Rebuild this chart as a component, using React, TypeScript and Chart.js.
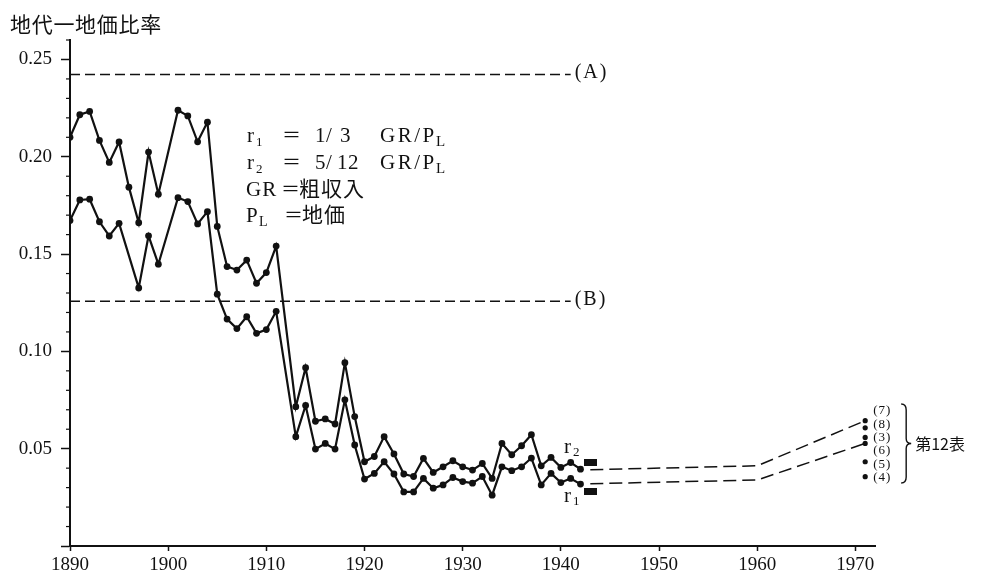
import React, { useEffect, useRef } from "react";
import { Chart, registerables } from "chart.js";
Chart.register(...registerables);

// ---------- data ----------
const years = [
  1890, 1891, 1892, 1893, 1894, 1895, 1896, 1897, 1898, 1899,
  1901, 1902, 1903, 1904, 1905, 1906, 1907, 1908, 1909, 1910, 1911,
  1913, 1914, 1915, 1916, 1917, 1918, 1919, 1920, 1921, 1922, 1923, 1924, 1925,
  1926, 1927, 1928, 1929, 1930, 1931, 1932, 1933, 1934, 1935, 1936, 1937, 1938,
  1939, 1940, 1941, 1942,
];
// r2 = 5/12 GR/PL (upper)
const r2 = [
  0.210, 0.2216, 0.2233, 0.2084, 0.1971, 0.2076, 0.1844, 0.1661, 0.2024, 0.1808,
  0.2239, 0.2210, 0.2077, 0.2178, 0.1642, 0.1436, 0.1418, 0.1469, 0.1350, 0.1405, 0.1541,
  0.0716, 0.0916, 0.0641, 0.0653, 0.0627, 0.0942, 0.0665, 0.0433, 0.0460, 0.0562, 0.0473, 0.0370, 0.0357,
  0.0450, 0.0378, 0.0407, 0.0438, 0.0407, 0.0390, 0.0424, 0.0347, 0.0527, 0.0469, 0.0515, 0.0572, 0.0412,
  0.0455, 0.0404, 0.0429, 0.0395,
];
// r1 = 1/3 GR/PL (lower)
const r1 = [
  0.1672, 0.1778, 0.1782, 0.1666, 0.1593, 0.1658, null, 0.1326, 0.1594, 0.1448,
  0.1790, 0.1770, 0.1655, 0.1718, 0.1294, 0.1166, 0.1117, 0.1178, 0.1093, 0.1112, 0.1206,
  0.0562, 0.0722, 0.0498, 0.0527, 0.0498, 0.0751, 0.0519, 0.0344, 0.0373, 0.0433, 0.0370, 0.0278, 0.0278,
  0.0347, 0.0297, 0.0314, 0.0352, 0.0331, 0.0323, 0.0357, 0.0261, 0.0407, 0.0387, 0.0407, 0.0452, 0.0314,
  0.0373, 0.0326, 0.0347, 0.0318,
];
// dashed extensions
const extYears = [1943, 1960, 1971];
const r2Ext = [0.0392, 0.0412, 0.0644];
const r1Ext = [0.0320, 0.0339, 0.0527];
// small black markers after 1942
const markerYear = 1943;
const markerValues = [0.0428, 0.0278];
// 第12表 points
const table12Year = 1971;
const table12Values = [0.0644, 0.0607, 0.0558, 0.0527, 0.0433, 0.0356];
const table12Labels = ["(7)", "(8)", "(3)", "(6)", "(5)", "(4)"];
// reference lines
const refYears = [1890, 1941];
const refA = 0.2423;
const refB = 0.1258;
// axes
const xMin = 1890;
const xMax = 1972;
const xStep = 10;
const yMin = 0;
const yMax = 0.26;
const yStep = 0.05;
const yMinorStep = 0.01;

const INK = "#111";
const SERIF = '"Liberation Serif", "Noto Sans CJK JP", serif';
const CJK = '"Noto Sans CJK JP", sans-serif';

function txt(ctx: CanvasRenderingContext2D, s: string, x: number, y: number, font: string, ls = 0) {
  ctx.font = font;
  (ctx as any).letterSpacing = ls + "px";
  ctx.fillText(s, x, y);
  (ctx as any).letterSpacing = "0px";
}

const annotPlugin = {
  id: "annot",
  afterDraw(chart: any) {
    const ctx: CanvasRenderingContext2D = chart.ctx;
    const xs = chart.scales.x;
    const ys = chart.scales.y;
    const area = chart.chartArea;
    ctx.save();
    ctx.fillStyle = INK;
    ctx.strokeStyle = INK;

    // minor ticks on y
    ctx.lineWidth = 1.2;
    const n = Math.round((yMax - yMin) / yMinorStep);
    for (let k = 1; k <= n; k++) {
      if (k % 5 === 0) continue;
      const py = ys.getPixelForValue(yMin + k * yMinorStep);
      ctx.beginPath();
      ctx.moveTo(area.left - 4, py);
      ctx.lineTo(area.left, py);
      ctx.stroke();
    }

    // title
    ctx.textAlign = "left";
    ctx.textBaseline = "middle";
    txt(ctx, "地代一地価比率", 10, 24, `21px ${CJK}`, 0.7);

    // (A), (B)
    const lx = xs.getPixelForValue(refYears[1]) + 4;
    txt(ctx, "(A)", lx, ys.getPixelForValue(refA) - 2, `20px ${SERIF}`, 2);
    txt(ctx, "(B)", lx, ys.getPixelForValue(refB) - 1, `20px ${SERIF}`, 2);

    // legend block
    ctx.textBaseline = "alphabetic";
    const f20 = `21px ${SERIF}`;
    const fsub = `13px ${SERIF}`;
    const feq = `19px ${CJK}`;
    // line 1
    let b = 142;
    txt(ctx, "r", 247, b, f20);
    txt(ctx, "1", 256, b + 4, fsub);
    txt(ctx, "＝", 282, b, feq);
    txt(ctx, "1", 315, b, f20);
    txt(ctx, "/", 326, b, f20);
    txt(ctx, "3", 340, b, f20);
    txt(ctx, "GR/P", 380, b, f20, 2.5);
    txt(ctx, "L", 436, b + 4, `15px ${SERIF}`);
    // line 2
    b = 168.5;
    txt(ctx, "r", 247, b, f20);
    txt(ctx, "2", 256, b + 4, fsub);
    txt(ctx, "＝", 282, b, feq);
    txt(ctx, "5", 315, b, f20);
    txt(ctx, "/", 326, b, f20);
    txt(ctx, "12", 337, b, f20, 0.5);
    txt(ctx, "GR/P", 380, b, f20, 2.5);
    txt(ctx, "L", 436, b + 4, `15px ${SERIF}`);
    // line 3
    b = 196;
    txt(ctx, "GR", 246, b, f20, 1);
    txt(ctx, "＝", 281, b, feq);
    txt(ctx, "粗収入", 299, b, `21px ${CJK}`, 1);
    // line 4
    b = 222;
    txt(ctx, "P", 246, b, f20);
    txt(ctx, "L", 259, b + 4, `14px ${SERIF}`);
    txt(ctx, "＝", 284, b, feq);
    txt(ctx, "地価", 302, b, `21px ${CJK}`, 1);

    // r2 / r1 labels near series end
    txt(ctx, "r", 564, 453, f20);
    txt(ctx, "2", 573, 456, fsub);
    txt(ctx, "r", 564, 502, f20);
    txt(ctx, "1", 573, 505, fsub);

    // table 12 labels
    ctx.textBaseline = "middle";
    const tx = xs.getPixelForValue(table12Year) + 8;
    table12Labels.forEach((s, i) => {
      txt(ctx, s, tx, 411 + 13.3 * i, `13px ${SERIF}`, 1);
    });

    // brace
    const bx = tx + 28;
    const top = 404;
    const bot = 483;
    const mid = (top + bot) / 2;
    ctx.lineWidth = 1.4;
    ctx.beginPath();
    ctx.moveTo(bx, top);
    ctx.quadraticCurveTo(bx + 5, top, bx + 5, top + 6);
    ctx.lineTo(bx + 5, mid - 5);
    ctx.quadraticCurveTo(bx + 5, mid, bx + 10, mid);
    ctx.quadraticCurveTo(bx + 5, mid, bx + 5, mid + 5);
    ctx.lineTo(bx + 5, bot - 6);
    ctx.quadraticCurveTo(bx + 5, bot, bx, bot);
    ctx.stroke();

    txt(ctx, "第12表", bx + 14, mid, `16px ${CJK}`);
    ctx.restore();
  },
};

export default function App() {
  const ref = useRef<HTMLCanvasElement | null>(null);
  useEffect(() => {
    const canvas = ref.current;
    if (!canvas) return;
    const rectImg = document.createElement("canvas");
    rectImg.width = 13;
    rectImg.height = 7;
    const rc = rectImg.getContext("2d")!;
    rc.fillStyle = INK;
    rc.fillRect(0, 0, 13, 7);

    const dashed = (xsArr: number[], ysArr: number[], dash: number[]) => ({
      data: xsArr.map((x, i) => ({ x, y: ysArr[i] })),
      borderColor: INK,
      borderWidth: 1.5,
      borderDash: dash,
      pointRadius: 0,
      fill: false,
      tension: 0,
    });
    const series = (vals: (number | null)[]) => ({
      data: years.map((x, i) => ({ x, y: vals[i] })),
      borderColor: INK,
      borderWidth: 2.2,
      pointRadius: 3.4,
      pointBackgroundColor: INK,
      pointBorderWidth: 0,
      spanGaps: true,
      fill: false,
      tension: 0,
    });

    const chart = new Chart(canvas, {
      type: "line",
      data: {
        datasets: [
          dashed(refYears, [refA, refA], [10, 5]) as any,
          dashed(refYears, [refB, refB], [10, 5]) as any,
          dashed(extYears, r2Ext, [13, 6]) as any,
          dashed(extYears, r1Ext, [13, 6]) as any,
          series(r2) as any,
          series(r1) as any,
          {
            data: table12Values.map((y) => ({ x: table12Year, y })),
            showLine: false,
            pointRadius: 2.6,
            pointBackgroundColor: INK,
            pointBorderWidth: 0,
            borderColor: INK,
          } as any,
          {
            data: markerValues.map((y) => ({ x: markerYear, y })),
            showLine: false,
            pointStyle: rectImg,
            pointRadius: 6,
            borderColor: INK,
          } as any,
        ],
      },
      options: {
        animation: false,
        responsive: false,
        maintainAspectRatio: false,
        layout: { padding: { left: 8, top: 40, right: 107, bottom: 0 } },
        plugins: {
          legend: { display: false },
          tooltip: { enabled: false },
          title: { display: false },
        },
        scales: {
          x: {
            type: "linear",
            min: xMin,
            max: xMax,
            afterFit: (s: any) => {
              s.height = 30;
            },
            ticks: {
              stepSize: xStep,
              includeBounds: false,
              autoSkip: false,
              maxRotation: 0,
              color: INK,
              padding: 3,
              font: { family: "Liberation Serif", size: 19 },
              callback: (v: any) => String(v),
            },
            grid: {
              display: true,
              drawOnChartArea: false,
              drawTicks: true,
              tickLength: 5,
              tickColor: INK,
              tickWidth: 1.5,
            },
            border: { display: true, color: INK, width: 2 },
          },
          y: {
            type: "linear",
            min: yMin,
            max: yMax,
            afterFit: (s: any) => {
              s.width = 62;
            },
            ticks: {
              stepSize: yStep,
              includeBounds: false,
              color: INK,
              padding: 9,
              font: { family: "Liberation Serif", size: 19 },
              callback: (v: any) => (Math.abs(Number(v)) < 1e-9 ? "" : Number(v).toFixed(2)),
            },
            grid: {
              display: true,
              drawOnChartArea: false,
              drawTicks: true,
              tickLength: 9,
              tickColor: INK,
              tickWidth: 1.5,
            },
            border: { display: true, color: INK, width: 2 },
          },
        },
      },
      plugins: [annotPlugin],
    });
    return () => chart.destroy();
  }, []);

  return (
    <div style={{ position: "absolute", left: 0, top: 0, width: 982, height: 576, background: "#fff" }}>
      <canvas ref={ref} width={982} height={576} style={{ display: "block" }} />
    </div>
  );
}
